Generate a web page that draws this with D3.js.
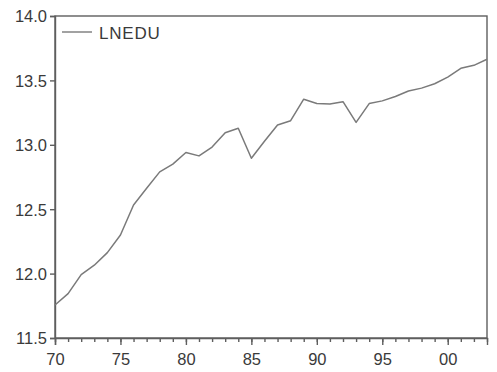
<!DOCTYPE html>
<html>
<head>
<meta charset="utf-8">
<script src="https://cdn.jsdelivr.net/npm/d3@7"></script>
<style>
  html, body { margin: 0; padding: 0; background: #ffffff; }
  svg { display: block; }
  text { font-family: "Liberation Sans", Arial, sans-serif; fill: #3a3a3a; }
</style>
</head>
<body>
<svg id="chart" width="497" height="372"></svg>
<script>
// Annual series, 1970–2003
const years = d3.range(1970, 2004);
const lnedu = [
  11.756, 11.845, 11.992, 12.065, 12.163, 12.300, 12.533, 12.662, 12.790, 12.850,
  12.940, 12.914, 12.982, 13.094, 13.128, 12.895, 13.027, 13.154, 13.187, 13.354,
  13.320, 13.316, 13.335, 13.174, 13.320, 13.341, 13.375, 13.418, 13.440, 13.474,
  13.526, 13.594, 13.617, 13.664
];
const seriesName = "LNEDU";
const yTicks = [11.5, 12.0, 12.5, 13.0, 13.5, 14.0];
const xMajor = [1970, 1975, 1980, 1985, 1990, 1995, 2000];

const svg = d3.select("#chart");
const m = { left: 55, right: 487, top: 16, bottom: 338 };

const x = d3.scaleLinear().domain([1970, 2003]).range([m.left, m.right]);
const y = d3.scaleLinear().domain([11.5, 14.0]).range([m.bottom, m.top]);

const axisColor = "#5e5e5e";

// Y axis: short outward ticks at each half unit
const yAxis = svg.append("g")
  .attr("transform", `translate(${m.left},0)`)
  .call(d3.axisLeft(y).tickValues(yTicks).tickFormat(d3.format(".1f")).tickSize(5).tickPadding(3));
yAxis.selectAll("text").style("font-size", "16.5px").attr("dy", "0.36em");

// X axis: yearly minor ticks, labelled major ticks every five years
const xMinor = svg.append("g")
  .attr("transform", `translate(0,${m.bottom})`)
  .call(d3.axisBottom(x).tickValues(years).tickFormat("").tickSize(4));
const xAxis = svg.append("g")
  .attr("transform", `translate(0,${m.bottom})`)
  .call(d3.axisBottom(x).tickValues(xMajor)
    .tickFormat(d => String(d % 100).padStart(2, "0")).tickSize(7).tickPadding(8));
xAxis.selectAll("text").style("font-size", "16.5px");

svg.selectAll(".domain, .tick line")
  .attr("stroke", axisColor).attr("stroke-width", 1.4);
xMinor.select(".domain").remove();

// Frame around the plot area
svg.append("rect")
  .attr("x", m.left).attr("y", m.top)
  .attr("width", m.right - m.left).attr("height", m.bottom - m.top)
  .attr("fill", "none").attr("stroke", axisColor).attr("stroke-width", 1.4);

// Series line
const line = d3.line().x((d, i) => x(years[i])).y(d => y(d));
svg.append("path")
  .datum(lnedu)
  .attr("d", line)
  .attr("fill", "none")
  .attr("stroke", "#7a7a7a")
  .attr("stroke-width", 1.5)
  .attr("stroke-linejoin", "round");

// Legend
const lg = svg.append("g");
lg.append("line")
  .attr("x1", 62).attr("x2", 92).attr("y1", 32).attr("y2", 32)
  .attr("stroke", "#7a7a7a").attr("stroke-width", 1.4);
lg.append("text")
  .attr("x", 99).attr("y", 39)
  .style("font-size", "17px").style("letter-spacing", "0.8px")
  .text(seriesName);
</script>
</body>
</html>
